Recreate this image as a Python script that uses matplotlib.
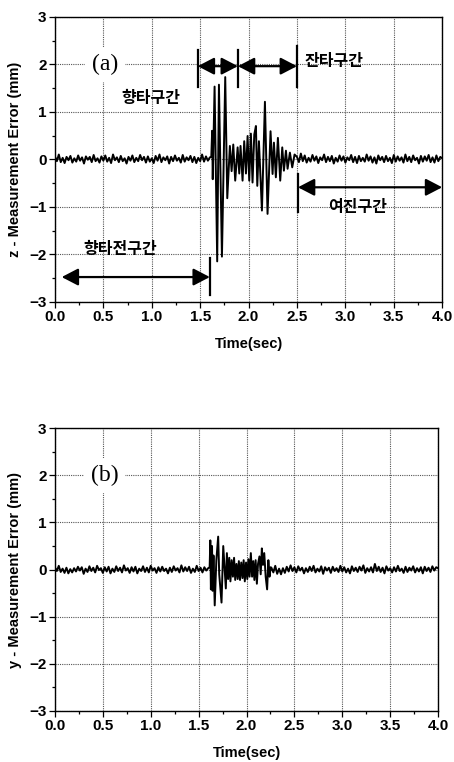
import numpy as np
import matplotlib
matplotlib.use("Agg")
import matplotlib.pyplot as plt
from matplotlib.ticker import MultipleLocator, FormatStrFormatter

plt.rcParams['font.family'] = ['Liberation Sans', 'DejaVu Sans']

DT = 0.02  # sampling step of the quiet segments

# ---------------- panel (a): z - measurement error ----------------
z_pre = [0.06,-0.04,0.10,-0.06,0.03,-0.08,0.05,-0.02,0.07,-0.07,
         0.02,-0.05,0.08,-0.03,0.04,-0.09,0.06,-0.01,0.05,-0.06,
         0.09,-0.04,0.02,-0.07,0.06,-0.03,0.08,-0.05,0.03,-0.08,
         0.10,-0.02,0.04,-0.06,0.07,-0.04,0.02,-0.09,0.05,-0.03,
         0.08,-0.06,0.03,-0.04,0.09,-0.02,0.05,-0.07,0.06,-0.05,
         0.02,-0.08,0.07,-0.03,0.10,-0.06,0.04,-0.02,0.06,-0.09,
         0.05,-0.04,0.08,-0.03,0.03,-0.07,0.09,-0.05,0.04,-0.02,
         0.07,-0.06,0.05,-0.08,0.03,-0.04,0.10,-0.05,0.06,-0.03,
         0.04]
z_pre_start = 0.0

z_burst_t = [1.615,1.624,1.630,1.649,1.676,1.694,1.725,1.759,1.780,1.807,
             1.825,1.842,1.862,1.887,1.904,1.917,1.938,1.955,1.973,1.990,
             2.007,2.024,2.041,2.059,2.076,2.090,2.107,2.138,2.169,2.196,
             2.227,2.248,2.262,2.282,2.303,2.327,2.348,2.365,2.386,2.403,
             2.427,2.451,2.475]
z_burst_v = [0.05,0.60,-0.42,1.53,-2.15,1.57,-2.05,1.73,-0.82,0.28,
             -0.25,0.31,-0.45,0.25,-0.30,0.28,-0.45,0.38,-0.30,0.49,
             -0.45,0.54,-0.49,0.52,0.70,-0.56,0.38,-1.08,1.21,-1.15,
             0.59,-0.31,0.35,-0.38,0.45,-0.45,0.25,-0.24,0.18,-0.20,
             0.14,-0.17,0.10]

z_post = [0.05,-0.06,0.12,-0.04,0.08,-0.07,0.03,-0.05,0.09,-0.03,
          0.06,-0.08,0.04,-0.02,0.10,-0.06,0.05,-0.04,0.07,-0.09,
          0.03,-0.05,0.08,-0.03,0.06,-0.07,0.04,-0.02,0.09,-0.06,
          0.05,-0.08,0.07,-0.04,0.03,-0.05,0.10,-0.03,0.06,-0.07,
          0.04,-0.09,0.08,-0.02,0.05,-0.06,0.07,-0.04,0.03,-0.08,
          0.09,-0.05,0.06,-0.03,0.04,-0.07,0.10,-0.04,0.05,-0.06,
          0.08,-0.02,0.03,-0.09,0.07,-0.05,0.06,-0.03,0.09,-0.06,
          0.04,-0.07,0.08,-0.04,0.05,0.02]
z_post_start = 2.50

# ---------------- panel (b): y - measurement error ----------------
y_pre = [0.05,-0.03,0.08,-0.05,0.02,-0.07,0.04,-0.08,0.01,-0.06,
         0.03,-0.04,0.06,-0.02,0.05,-0.09,0.02,-0.05,0.07,-0.03,
         0.04,-0.06,0.08,-0.01,0.03,-0.07,0.05,-0.04,0.06,-0.08,
         0.02,-0.05,0.07,-0.03,0.04,-0.06,0.09,-0.02,0.03,-0.07,
         0.05,-0.04,0.06,-0.08,0.02,-0.03,0.07,-0.05,0.04,-0.06,
         0.08,-0.02,0.03,-0.07,0.05,-0.04,0.06,-0.03,0.02,-0.08,
         0.04,-0.05,0.07,-0.02,0.03,-0.06,0.09,-0.04,0.05,-0.03,
         0.06,-0.07,0.02,-0.05,0.08,-0.03,0.04,-0.06,0.05,-0.02,
         0.03]
y_pre_start = 0.0

y_burst_t = [1.615,1.622,1.628,1.640,1.646,1.655,1.668,1.685,1.704,1.715,
             1.739,1.757,1.770,1.784,1.795,1.808,1.820,1.832,1.845,1.858,
             1.870,1.882,1.895,1.908,1.920,1.932,1.945,1.958,1.970,1.982,
             1.995,2.008,2.020,2.032,2.045,2.058,2.070,2.082,2.095,2.108,
             2.120,2.135,2.148,2.160,2.172,2.185,2.200,2.215,2.228,2.240,
             2.252]
y_burst_v = [0.05,0.62,-0.42,0.50,-0.45,0.30,-0.76,0.20,0.70,-0.10,
             -0.70,0.50,0.05,-0.40,0.35,-0.20,0.25,-0.25,0.20,-0.15,
             0.25,-0.22,0.12,-0.20,0.18,-0.22,0.15,-0.18,0.20,-0.25,
             0.15,-0.20,0.22,-0.15,0.35,-0.15,0.18,-0.22,0.20,-0.30,
             0.12,0.28,-0.10,0.45,0.10,0.35,-0.15,-0.42,0.20,-0.15,
             0.05]

y_post = [0.04,-0.06,0.08,-0.09,0.02,-0.10,0.03,-0.07,0.06,-0.04,
          0.09,-0.03,0.05,-0.06,0.07,-0.02,0.04,-0.08,0.03,-0.05,
          0.06,-0.03,0.08,-0.06,0.02,-0.04,0.07,-0.09,0.05,-0.02,
          0.04,-0.07,0.06,-0.03,0.03,-0.05,0.08,-0.04,0.05,-0.06,
          0.02,-0.08,0.07,-0.03,0.04,-0.05,0.06,-0.02,0.09,-0.07,
          0.03,-0.04,0.05,-0.06,0.12,-0.03,0.06,-0.05,0.04,-0.08,
          0.07,-0.02,0.03,-0.06,0.05,-0.04,0.08,-0.03,0.02,-0.07,
          0.06,-0.05,0.04,-0.02,0.07,-0.06,0.03,-0.04,0.05,-0.08,
          0.06,-0.03,0.04,-0.05,0.07,-0.02,0.05,0.03]
y_post_start = 2.26

x_ticks = [0.0, 0.5, 1.0, 1.5, 2.0, 2.5, 3.0, 3.5, 4.0]
y_ticks = [-3, -2, -1, 0, 1, 2, 3]

# annotation positions for panel (a)
region_bars = [1.475, 1.89, 2.50]
korean_font = ['Noto Sans CJK KR', 'DejaVu Sans']


def series(pre, pre_start, bt, bv, post, post_start):
    t_pre = pre_start + DT * np.arange(len(pre))
    t_post = post_start + DT * np.arange(len(post))
    t = np.concatenate([t_pre, bt, t_post])
    v = np.concatenate([pre, bv, post])
    return t, v


def style_axes(ax, ylabel):
    ax.set_xlim(0, 4.0)
    ax.set_ylim(-3, 3)
    ax.set_xticks(x_ticks)
    ax.set_yticks(y_ticks)
    ax.xaxis.set_minor_locator(MultipleLocator(0.25))
    ax.yaxis.set_minor_locator(MultipleLocator(0.5))
    ax.xaxis.set_major_formatter(FormatStrFormatter('%.1f'))
    ax.tick_params(which='both', direction='out', top=False, right=False,
                   width=0.9, labelsize=11)
    ax.tick_params(which='major', length=4, pad=2)
    ax.tick_params(which='minor', length=2.5)
    for lab in ax.get_xticklabels() + ax.get_yticklabels():
        lab.set_fontweight('bold')
    ax.grid(True, which='major', color='#555555', linestyle=(0, (1, 1)),
            linewidth=0.8)
    for sp in ax.spines.values():
        sp.set_linewidth(1.0)
    ax.set_xlabel('Time(sec)', fontsize=10.5, fontweight='bold', labelpad=9)
    ax.set_ylabel(ylabel, fontsize=10.5, fontweight='bold', labelpad=5)


fig = plt.figure(figsize=(4.54, 7.62), dpi=100)
ax1 = fig.add_axes([0.121, 0.604, 0.853, 0.374])
ax2 = fig.add_axes([0.121, 0.067, 0.844, 0.371])

tz, vz = series(z_pre, z_pre_start, z_burst_t, z_burst_v, z_post, z_post_start)
ax1.plot(tz, vz, color='black', linewidth=1.4)
style_axes(ax1, 'z - Measurement Error (mm)')

ty, vy = series(y_pre, y_pre_start, y_burst_t, y_burst_v, y_post, y_post_start)
ax2.plot(ty, vy, color='black', linewidth=1.4)
style_axes(ax2, 'y - Measurement Error (mm)')

# panel labels
for ax, lab in [(ax1, '(a)'), (ax2, '(b)')]:
    ax.text(0.52, 2.0, lab, family=['Liberation Serif', 'DejaVu Serif'],
            fontsize=17, ha='center', va='center', zorder=5,
            bbox=dict(facecolor='white', edgecolor='none', pad=5))

arrow_kw = dict(arrowstyle='<|-|>,head_length=0.5,head_width=0.26',
                color='black', lw=1.6, shrinkA=0, shrinkB=0,
                mutation_scale=20)

# top region markers
ax1.plot([region_bars[0]] * 2, [1.52, 2.31], color='black', lw=1.6)
ax1.plot([region_bars[1]] * 2, [1.52, 2.31], color='black', lw=1.6)
ax1.plot([region_bars[2]] * 2, [1.52, 2.38], color='black', lw=1.6)
ax1.annotate('', xy=(region_bars[0], 1.96), xytext=(region_bars[1], 1.96),
             arrowprops=arrow_kw)
ax1.annotate('', xy=(region_bars[1], 1.96), xytext=(region_bars[2], 1.96),
             arrowprops=arrow_kw)
ax1.text(2.58, 2.06, '잔타구간', family=korean_font, fontsize=11.5,
         fontweight='bold', ha='left', va='center')
ax1.text(0.99, 1.29, '향타구간', family=korean_font, fontsize=11.5,
         fontweight='bold', ha='center', va='center')

# pre-impact region
ax1.plot([1.6, 1.6], [-2.08, -2.85], color='black', lw=1.6)
ax1.annotate('', xy=(0.07, -2.48), xytext=(1.6, -2.48), arrowprops=arrow_kw)
ax1.text(0.675, -1.89, '향타전구간', family=korean_font, fontsize=11.5,
         fontweight='bold', ha='center', va='center')

# aftershock region
ax1.plot([2.51, 2.51], [-0.31, -1.12], color='black', lw=1.6)
ax1.annotate('', xy=(2.51, -0.59), xytext=(4.0, -0.59), arrowprops=arrow_kw,
             annotation_clip=False)
ax1.text(3.13, -1.01, '여진구간', family=korean_font, fontsize=11.5,
         fontweight='bold', ha='center', va='center')

fig.savefig('out.png', dpi=100)
